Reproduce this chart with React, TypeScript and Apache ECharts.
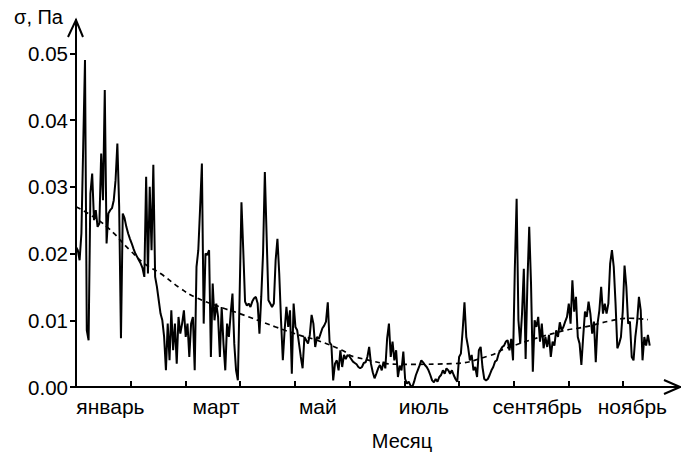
import { useEffect, useRef } from "react";
import * as echarts from "echarts";

// Daily standard deviation of stress, Pa (one value per day from January 1st)
const sigmaDaily: number[] = [
  0.021, 0.0205, 0.019, 0.023, 0.036, 0.049, 0.0085, 0.007, 0.029, 0.032,
  0.025, 0.0265, 0.024, 0.0245, 0.035, 0.028, 0.0445, 0.0215, 0.026, 0.0265,
  0.0268, 0.028, 0.031, 0.0365, 0.027, 0.0073, 0.026, 0.0253, 0.024, 0.023,
  0.0222, 0.0215, 0.0207, 0.02, 0.0195, 0.019, 0.0185, 0.0178, 0.0165, 0.0315,
  0.017, 0.03, 0.0205, 0.0333, 0.0165, 0.015, 0.013, 0.011, 0.01, 0.0075,
  0.0025, 0.0095, 0.004, 0.0115, 0.0055, 0.0095, 0.0035, 0.0105, 0.008, 0.0095,
  0.0115, 0.0075, 0.0095, 0.0045, 0.0095, 0.0105, 0.0025, 0.018, 0.0205, 0.0268,
  0.0335, 0.0095, 0.02, 0.0198, 0.0205, 0.0045, 0.0155, 0.01, 0.0125, 0.0105,
  0.0045, 0.012, 0.0065, 0.0025, 0.0095, 0.0075, 0.011, 0.014, 0.0065, 0.0025,
  0.001, 0.014, 0.0277, 0.0205, 0.0128, 0.0122, 0.0125, 0.012, 0.0128, 0.0133,
  0.0135, 0.0125, 0.008, 0.0135, 0.02, 0.0322, 0.0225, 0.013, 0.0125, 0.012,
  0.0125, 0.019, 0.0222, 0.017, 0.01, 0.004, 0.0085, 0.012, 0.009, 0.0115,
  0.002, 0.0125, 0.009, 0.0085, 0.0065, 0.0045, 0.0028, 0.0075, 0.007, 0.0065,
  0.0078, 0.0108, 0.0095, 0.006, 0.0075, 0.0072, 0.008, 0.0088, 0.0092, 0.0098,
  0.0127, 0.0067, 0.0063, 0.001, 0.0035, 0.004, 0.0025, 0.0055, 0.003, 0.0048,
  0.0042, 0.0048, 0.0046, 0.0042, 0.0038, 0.0036, 0.0034, 0.003, 0.0028, 0.003,
  0.0036, 0.0037, 0.0045, 0.006, 0.0035, 0.0022, 0.0013, 0.002, 0.0028, 0.0033,
  0.0025, 0.0038, 0.0028, 0.0073, 0.0095, 0.0045, 0.0068, 0.004, 0.0055, 0.0015,
  0.0032, 0.0025, 0.0053, 0.0012, 0.0005, 0.0008, 0.0002, 0.0, 0.0008, 0.0018,
  0.0025, 0.0032, 0.004, 0.0037, 0.0033, 0.003, 0.0025, 0.0018, 0.001, 0.0007,
  0.0012, 0.0008, 0.0015, 0.0018, 0.0025, 0.002, 0.0028, 0.0025, 0.002, 0.0025,
  0.0018, 0.0012, 0.0008, 0.0045, 0.005, 0.0085, 0.0127, 0.0075, 0.006, 0.004,
  0.0048, 0.0025, 0.003, 0.0015, 0.0055, 0.006, 0.003, 0.0012, 0.001, 0.0012,
  0.0018, 0.0025, 0.003, 0.0038, 0.004, 0.005, 0.0055, 0.006, 0.0062, 0.0068,
  0.007, 0.0055, 0.0072, 0.004, 0.0178, 0.0282, 0.01, 0.0065, 0.011, 0.0177,
  0.0042, 0.0157, 0.024, 0.0155, 0.0023, 0.01, 0.009, 0.0105, 0.0068, 0.0095,
  0.0058, 0.0075, 0.006, 0.0078, 0.0045, 0.0068, 0.0062, 0.0085, 0.0075, 0.0097,
  0.0085, 0.009, 0.0098, 0.0105, 0.0125, 0.0095, 0.016, 0.0113, 0.0135, 0.0075,
  0.0065, 0.0033, 0.0075, 0.0113, 0.0105, 0.0128, 0.011, 0.008, 0.0098, 0.0037,
  0.0095, 0.0115, 0.015, 0.011, 0.0125, 0.011, 0.0125, 0.0185, 0.0205, 0.018,
  0.0125, 0.0058, 0.0065, 0.0075, 0.0113, 0.0182, 0.015, 0.0095, 0.0098, 0.0045,
  0.004, 0.0075, 0.0098, 0.0135, 0.0115, 0.004, 0.0075, 0.0062, 0.0078, 0.0062,
];

// Smoothed seasonal trend: [day of year, sigma]
const trendDays: number[] = [0, 8, 18, 30, 38, 47, 58, 66, 80, 91, 111, 125, 134, 148, 155, 183, 209, 230, 239, 269, 283, 297, 308, 318];
const trendValues: number[] = [
  0.027, 0.0258, 0.0238, 0.0205, 0.0185, 0.017, 0.0148, 0.0135, 0.012, 0.011, 0.009, 0.0077,
  0.007, 0.0055, 0.0045, 0.0034, 0.0035, 0.0047, 0.0058, 0.0083, 0.009, 0.0099, 0.0103, 0.0101,
];

const DAYS_PER_MONTH = 30.42;
const monthTicks: number[] = [1, 2, 3, 4, 5, 6, 7, 8, 9, 10];
const monthLabels: string[] = ["январь", "март", "май", "июль", "сентябрь", "ноябрь"];
const monthLabelAt: number[] = [0.63, 2.56, 4.42, 6.36, 8.43, 10.17];
const yTicks: number[] = [0, 0.01, 0.02, 0.03, 0.04, 0.05];

const FONT = "'Liberation Sans', Arial, sans-serif";

export default function App() {
  const ref = useRef<HTMLDivElement>(null);

  useEffect(() => {
    const chart = echarts.init(ref.current!, null, { renderer: "svg" });
    const axisColor = "#000";

    chart.setOption({
      animation: false,
      backgroundColor: "#fff",
      grid: { left: 76, right: 1, top: 20, bottom: 76 },
      xAxis: {
        type: "value",
        min: 0,
        max: 11.04,
        axisLine: { lineStyle: { color: axisColor, width: 2 } },
        axisTick: {
          inside: true,
          length: 6,
          customValues: monthTicks,
          lineStyle: { color: axisColor, width: 2 },
        },
        axisLabel: {
          customValues: monthLabelAt,
          margin: 9,
          color: "#000",
          fontFamily: FONT,
          fontSize: 21,
          formatter: (v: number) => {
            let best = 0;
            monthLabelAt.forEach((p, i) => {
              if (Math.abs(p - v) < Math.abs(monthLabelAt[best] - v)) best = i;
            });
            return monthLabels[best];
          },
        },
        splitLine: { show: false },
      },
      yAxis: {
        type: "value",
        min: 0,
        max: 0.055,
        axisLine: { show: true, lineStyle: { color: axisColor, width: 2 } },
        axisTick: {
          show: true,
          length: 6,
          customValues: yTicks,
          lineStyle: { color: axisColor, width: 2 },
        },
        axisLabel: {
          customValues: yTicks,
          margin: 8,
          color: "#000",
          fontFamily: FONT,
          fontSize: 20.5,
          formatter: (v: number) => v.toFixed(2),
        },
        splitLine: { show: false },
      },
      series: [
        {
          type: "line",
          data: sigmaDaily.map((v, i) => [i / DAYS_PER_MONTH, v]),
          showSymbol: false,
          lineStyle: { color: "#000", width: 2 },
          z: 3,
        },
        {
          type: "line",
          data: trendDays.map((d, i) => [d / DAYS_PER_MONTH, trendValues[i]]),
          smooth: true,
          showSymbol: false,
          lineStyle: { color: "#000", width: 1.7, type: [5, 4] },
          z: 2,
        },
      ],
    });

    // Arrowheads at the ends of both axes, plus axis captions
    const [x0, y0] = chart.convertToPixel({ gridIndex: 0 }, [0, 0]) as number[];
    const [xEnd, yTop] = chart.convertToPixel({ gridIndex: 0 }, [11.04, 0.055]) as number[];
    chart.setOption({
      graphic: [
        {
          type: "polyline",
          shape: { points: [[x0 - 8, yTop + 17], [x0, yTop], [x0 + 7, yTop + 17]] },
          style: { stroke: "#000", lineWidth: 2, fill: null },
        },
        {
          type: "polyline",
          shape: { points: [[xEnd - 16, y0 - 7], [xEnd, y0], [xEnd - 16, y0 + 7]] },
          style: { stroke: "#000", lineWidth: 2, fill: null },
        },
        {
          type: "text",
          x: 63,
          y: 17,
          style: {
            text: "σ, Па",
            fill: "#000",
            font: `20px ${FONT}`,
            textAlign: "right",
            textVerticalAlign: "middle",
          },
        },
        {
          type: "text",
          x: 402,
          y: 441,
          style: {
            text: "Месяц",
            fill: "#000",
            font: `20px ${FONT}`,
            textAlign: "center",
            textVerticalAlign: "middle",
          },
        },
      ],
    });

    return () => chart.dispose();
  }, []);

  return (
    <div
      ref={ref}
      style={{ position: "fixed", left: 0, top: 0, width: 681, height: 463, background: "#fff" }}
    />
  );
}
